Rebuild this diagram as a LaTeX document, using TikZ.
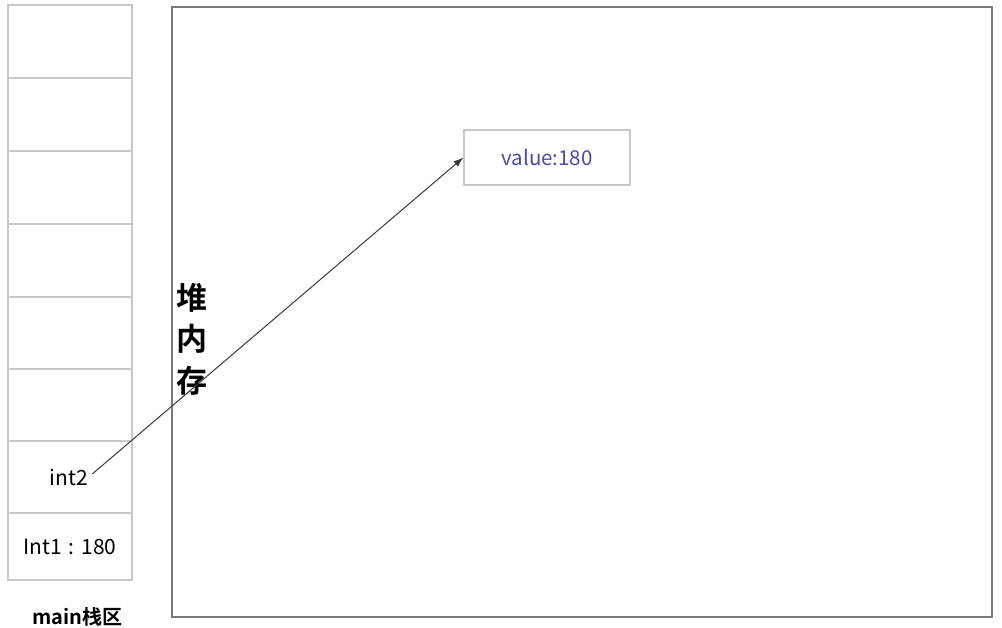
\documentclass[tikz,border=0pt]{standalone}
\usepackage{fontspec}
\setmainfont{Noto Sans CJK SC}[BoldFont={Noto Sans CJK SC Bold}]
\usepackage{xcolor}
\usetikzlibrary{arrows.meta}
\definecolor{cellgray}{HTML}{C8C8C8}
\definecolor{heapgray}{HTML}{7A7A7A}
\definecolor{valblue}{HTML}{4A4AA8}
\definecolor{arrgray}{HTML}{3A3A3A}
\tikzset{
  cell/.style={draw=cellgray, line width=1.2pt, minimum width=124pt, inner sep=0pt},
  txt/.style={font=\fontsize{21}{24}\selectfont, inner sep=1pt}
}

\begin{document}
\begin{tikzpicture}[x=1pt,y=-1pt]
     \useasboundingbox (0,0) rectangle (1002,627);
     % stack cells
     \foreach \i/\top/\bot in {1/5/78, 2/78/151, 3/151/224, 4/224/297, 5/297/369, 6/369/441, 7/441/513, 8/513/580}
         \node [cell, minimum height={(\bot-\top)*1pt}] (c\i) at (70,{(\top+\bot)/2}) {};
     \node [txt] (int2) at (69,477) {int2};
     \node [txt] (int1) at (70,547) {Int1\,\,:\,\,180};
     \node [font=\bfseries\fontsize{20}{22}\selectfont] (stk) at (77,617) {main栈区};
     % heap
     \node [draw=heapgray, line width=1.8pt, minimum width=820pt, minimum height=610pt, inner sep=0pt] (heap) at (582,312) {};
     \node [font=\bfseries\fontsize{31}{41.5}\selectfont, align=center] (hl) at (192,339) {堆\\内\\存};
     \node [draw=cellgray, line width=1.2pt, minimum width=166pt, minimum height=55pt, text=valblue, font=\fontsize{20.5}{24}\selectfont] (val) at (547,157.5) {value:180};
     \draw [-{Latex[length=10pt,width=7pt]}, draw=arrgray, line width=1pt] ([shift={(3pt,3pt)}]int2.east) -- (val.west);
\end{tikzpicture}
\end{document}
